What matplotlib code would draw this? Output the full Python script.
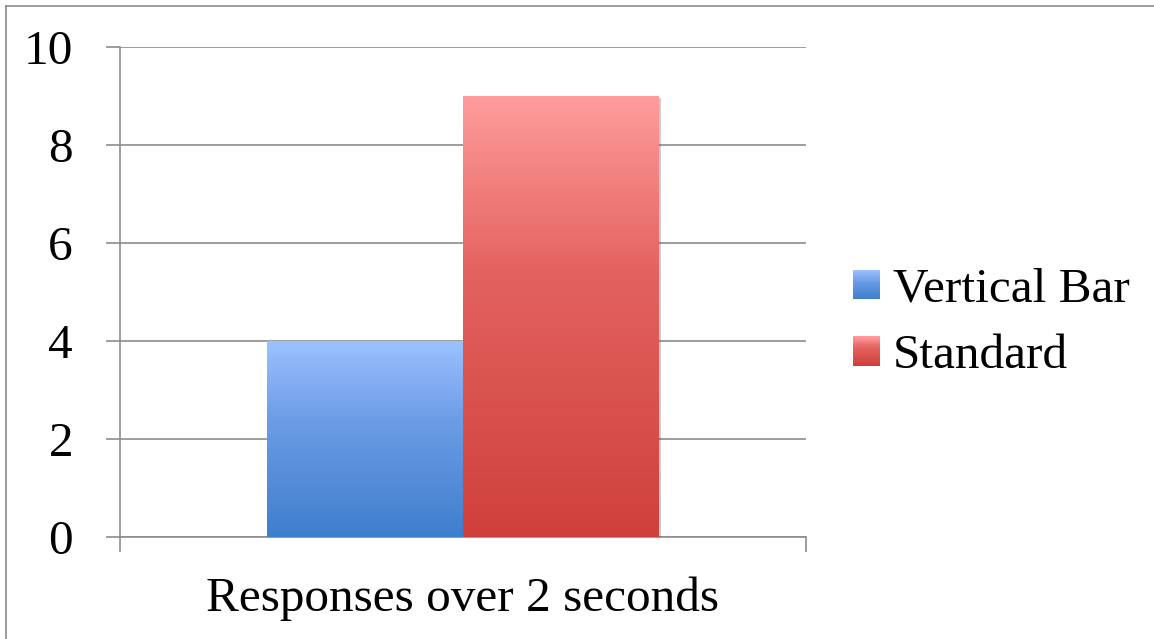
import numpy as np
import matplotlib.pyplot as plt
from matplotlib.colors import LinearSegmentedColormap
from matplotlib.legend_handler import HandlerBase
from matplotlib.patches import Rectangle, Patch
from matplotlib.lines import Line2D
import matplotlib.patheffects as pe

plt.rcParams['font.family'] = ['Liberation Serif', 'DejaVu Serif']

# data
category = 'Responses over 2 seconds'
series = ['Vertical Bar', 'Standard']
values = [4, 9]
yticks = [0, 2, 4, 6, 8, 10]

# colours (bottom -> mid -> top of gradient)
colors_grad = [['#3e7fcd', '#6d9ce6', '#9bc1ff'],
               ['#cf403c', '#e3625f', '#ff9c9c']]
grid_color = '#8c8c8c'
fs = 35.5

W, H = 1154, 639
fig = plt.figure(figsize=(W / 100, H / 100), dpi=100)
ax = fig.add_axes([119.5 / W, 1 - 536.7 / H, 686 / W, 490 / H])

cmaps = [LinearSegmentedColormap.from_list(s, [(0, c[0]), (0.6, c[1]), (1, c[2])])
         for s, c in zip(series, colors_grad)]

bar_w = 0.2857
xs = [-bar_w / 2, bar_w / 2]
grad = np.linspace(0, 1, 256).reshape(-1, 1)
for x, v, s, cm in zip(xs, values, series, cmaps):
    rect = ax.bar(x, v, width=bar_w, color=cm(0.5), zorder=3,
                  path_effects=[pe.SimplePatchShadow(offset=(2, -2), shadow_rgbFace='#555555', alpha=0.3),
                                pe.Normal()])[0]
    x0 = rect.get_x()
    img = ax.imshow(grad, extent=[x0, x0 + rect.get_width(), 0, rect.get_height()],
                    origin='lower', aspect='auto', cmap=cm, zorder=4)
    img.set_clip_path(rect)

ax.set_xlim(-0.5, 0.5)
ax.set_ylim(0, 10)
ax.set_yticks(yticks)
ax.yaxis.grid(True, color=grid_color, lw=1.2)
ax.set_axisbelow(True)

for side in ['top', 'right']:
    ax.spines[side].set_visible(False)
for side in ['left', 'bottom']:
    ax.spines[side].set_color(grid_color)
    ax.spines[side].set_linewidth(1.2)

ax.tick_params(axis='y', length=10.4, width=1.2, color=grid_color, pad=23, labelsize=fs)
ax.set_xticks([0])
ax.set_xticklabels([category])
ax.set_xticks([-0.5, 0.5], minor=True)
ax.tick_params(axis='x', which='major', length=0, pad=29, labelsize=fs)
ax.tick_params(axis='x', which='minor', length=10.8, width=1.2, color=grid_color)


class GradientHandler(HandlerBase):
    def __init__(self, cmap):
        super().__init__()
        self.cmap = cmap

    def create_artists(self, legend, orig_handle, xdescent, ydescent,
                       width, height, fontsize, trans):
        n = 24
        parts = []
        for i in range(n):
            parts.append(Rectangle((-xdescent, -ydescent + height * i / n), width,
                                   height / n * 1.05, facecolor=self.cmap(i / (n - 1)),
                                   edgecolor='none', transform=trans))
        return parts


handles = [Patch(label=s) for s in series]
fig.legend(handles=handles, labels=series,
           handler_map={h: GradientHandler(cm) for h, cm in zip(handles, cmaps)},
           loc='center left', bbox_to_anchor=(853 / W, 1 - 323 / H),
           frameon=False, fontsize=fs, handlelength=0.55, handleheight=0.55,
           handletextpad=0.26, labelspacing=0.45, borderpad=0, borderaxespad=0)

# outer frame (left and top)
fig.add_artist(Line2D([5.5 / W, 5.5 / W], [0, 1 - 5.5 / H], transform=fig.transFigure,
                      color=grid_color, lw=1.2))
fig.add_artist(Line2D([5.5 / W, 1], [1 - 5.5 / H, 1 - 5.5 / H], transform=fig.transFigure,
                      color=grid_color, lw=1.2))

fig.savefig('out.png', dpi=100)
